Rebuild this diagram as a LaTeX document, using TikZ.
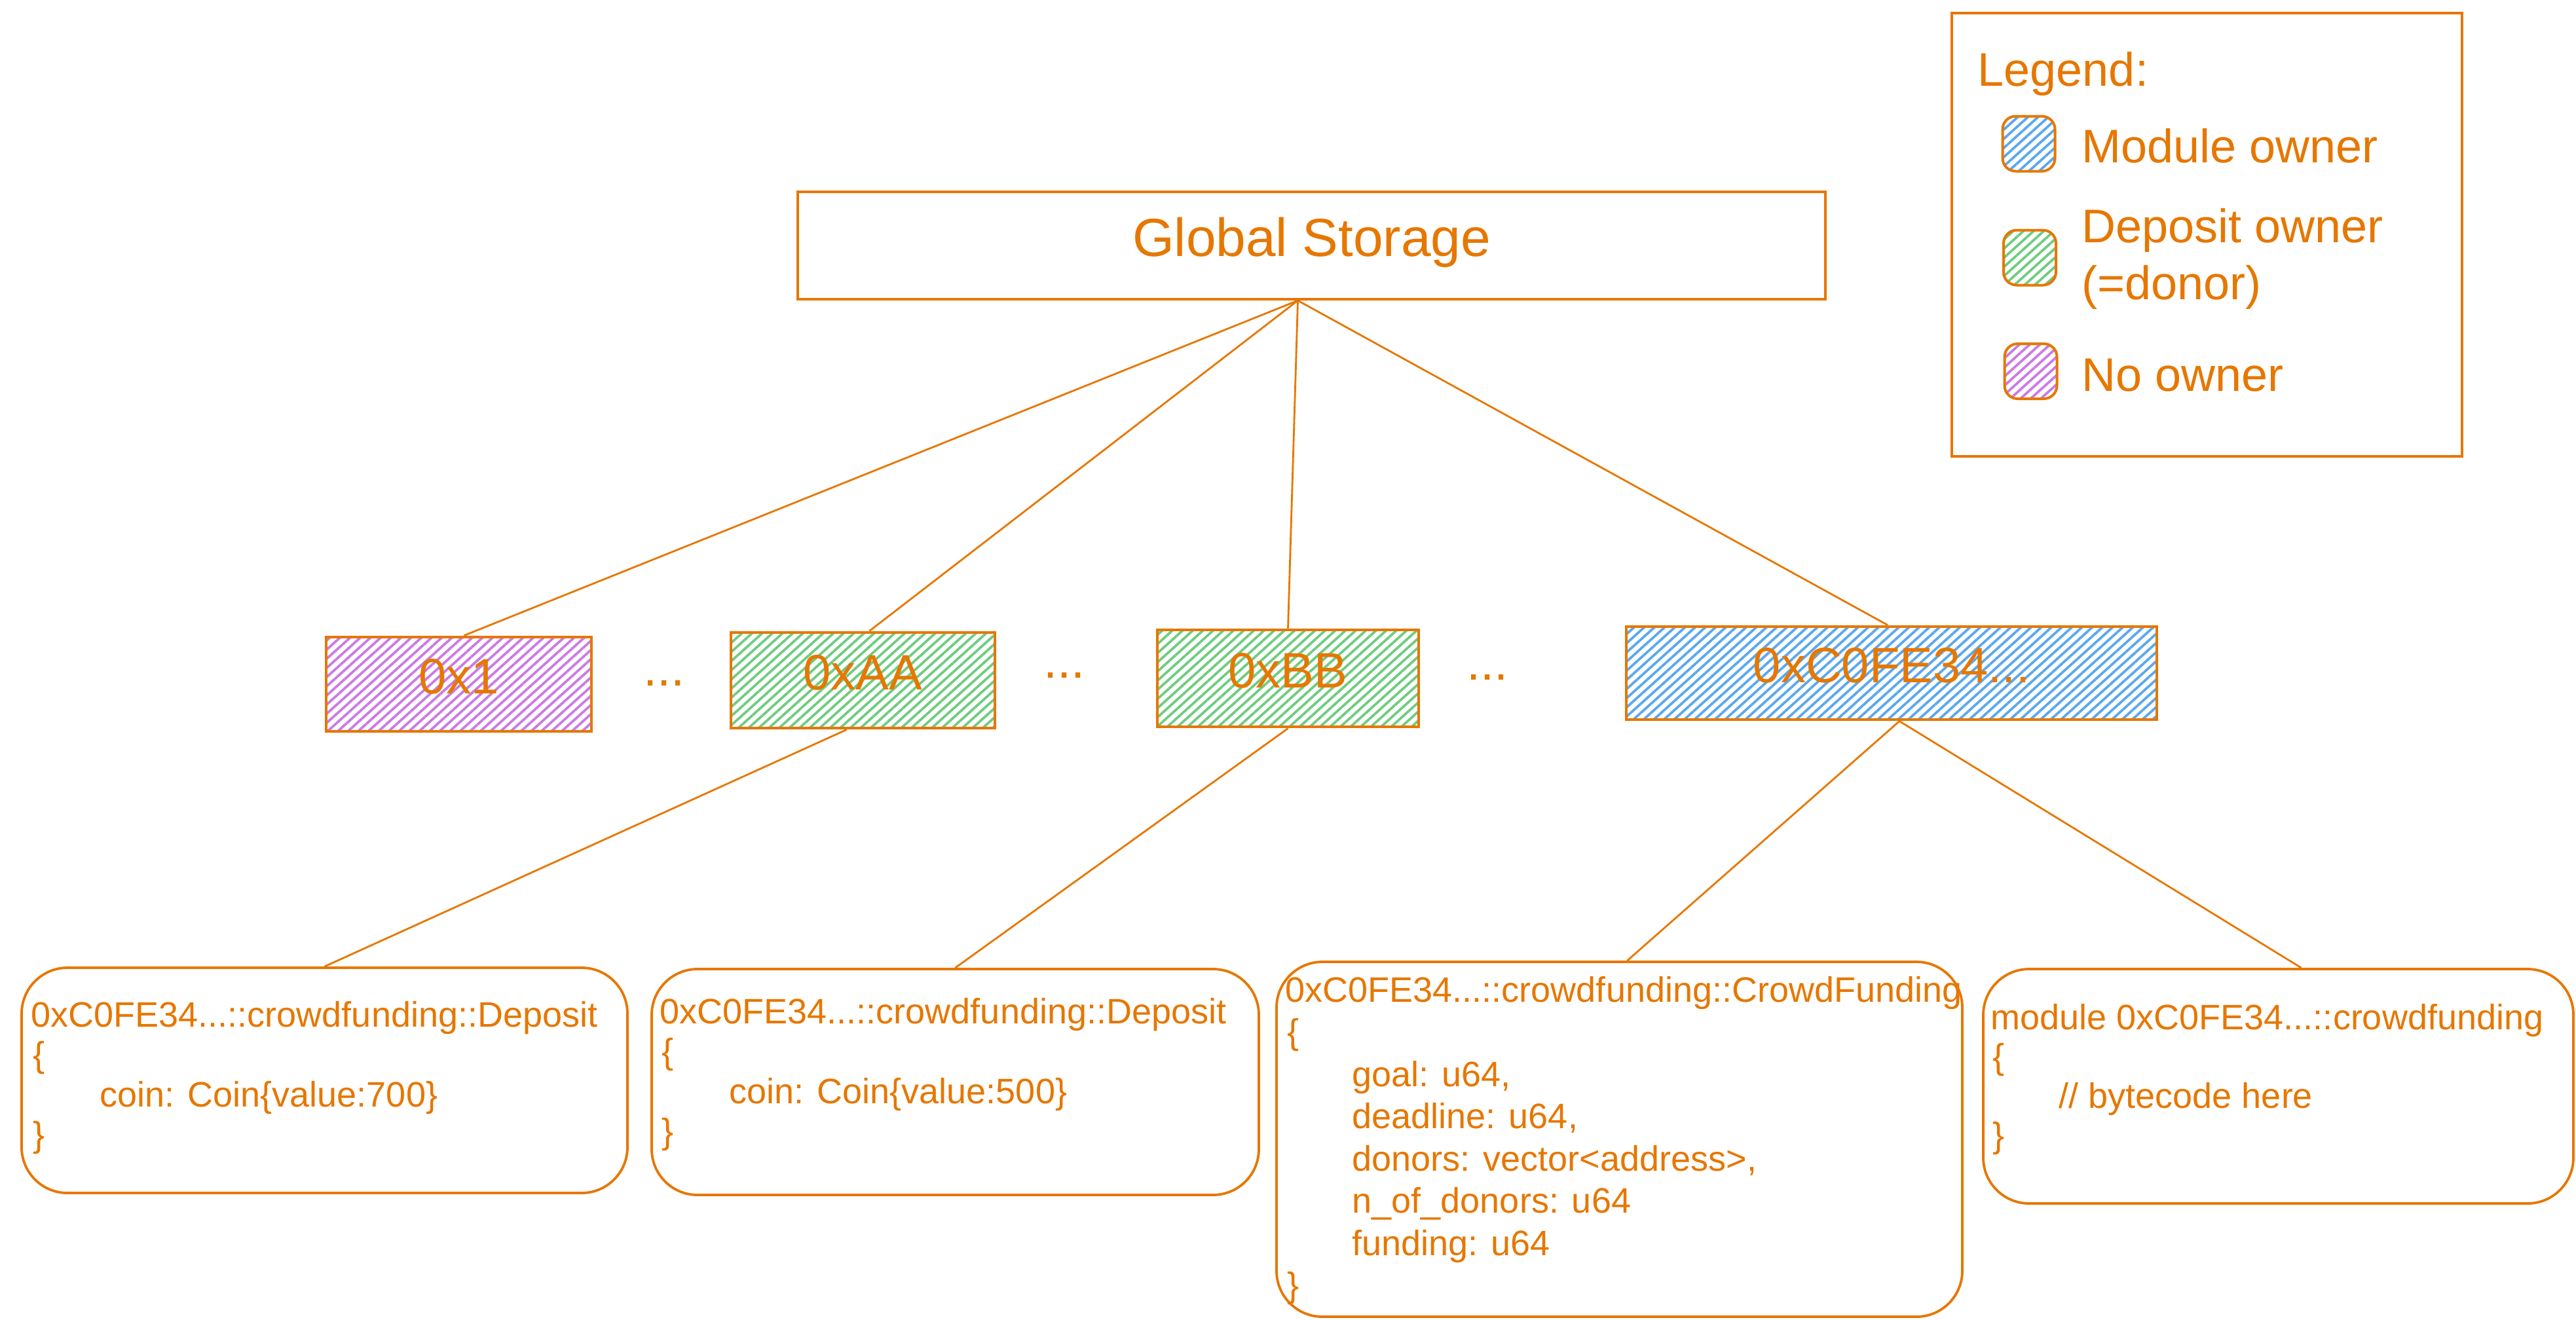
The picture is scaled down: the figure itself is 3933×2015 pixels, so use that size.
\documentclass[tikz,border=0pt]{standalone}
\usepackage{fontspec}
\setmainfont{Liberation Sans}
\usetikzlibrary{patterns.meta,calc}

\definecolor{orng}{HTML}{E67700}
\definecolor{hpurple}{HTML}{CB7AE6}
\definecolor{hgreen}{HTML}{6FCC80}
\definecolor{hblue}{HTML}{5BA8EE}

\tikzset{
  hatch/.style={pattern={Lines[angle=42,distance=2.6pt,line width=0.95pt]}, pattern color=#1},
  addrbox/.style={draw=orng, line width=1.2pt, hatch=#1, inner sep=0pt,
    text=orng, font=\fontsize{19pt}{22pt}\selectfont,
    text height=13.7pt, text depth=6.4pt},
  plainbox/.style={draw=orng, line width=1pt, inner sep=0pt,
    text=orng, font=\fontsize{20.5pt}{24pt}\selectfont,
    text height=14.8pt, text depth=6.5pt},
  structbox/.style={draw=orng, line width=0.95pt, rounded corners=17.5pt, inner sep=0pt},
  swatch/.style={draw=orng, line width=1pt, rounded corners=5pt, hatch=#1,
    minimum width=20pt, minimum height=21pt, inner sep=0pt},
  codeline/.style={anchor=base west, inner sep=0pt, text=orng,
    font=\fontsize{13.5pt}{16pt}\selectfont},
  legtext/.style={anchor=base west, inner sep=0pt, text=orng,
    font=\fontsize{18pt}{21pt}\selectfont},
  ellipsis/.style={anchor=base, inner sep=0pt, text=orng,
    font=\fontsize{19pt}{22pt}\selectfont},
  link/.style={draw=orng, line width=0.7pt},
}

\begin{document}
\begin{tikzpicture}[x=0.25pt, y=-0.25pt]
\useasboundingbox (0,0) rectangle (3933,2015);

% root
\node[plainbox, minimum width=392.25pt, minimum height=41pt] (gs) at (2002.5,375) {Global Storage};

% legend
\node[draw=orng, line width=1pt, minimum width=194.75pt, minimum height=169.25pt, inner sep=0pt] (legend) at (3369.5,358.5) {};
\node[legtext] (lgtitle) at (3019,131) {Legend:};
\node[swatch=hblue] (swmod) at (3097.5,219.5) {};
\node[legtext] (lgmod) at (3178,248) {Module owner};
\node[swatch=hgreen] (swdep) at (3099,393.5) {};
\node[legtext] (lgdep) at (3178,370) {Deposit owner};
\node[legtext] (lgdon) at (3178,457) {(=donor)};
\node[swatch=hpurple] (swnone) at (3100.5,567) {};
\node[legtext] (lgnone) at (3178,597) {No owner};

% accounts
\node[addrbox=hpurple, minimum width=101.25pt, minimum height=36pt] (a1) at (700.5,1045) {0x1};
\node[addrbox=hgreen, minimum width=100.75pt, minimum height=36.5pt] (a2) at (1317.5,1039) {0xAA};
\node[addrbox=hgreen, minimum width=99.75pt, minimum height=37pt] (a3) at (1966.5,1036) {0xBB};
\node[addrbox=hblue, minimum width=202.5pt, minimum height=35.5pt] (a4) at (2888,1028) {0xC0FE34...};

\node[ellipsis] (gap1) at (1014,1047) {...};
\node[ellipsis] (gap2) at (1625,1035) {...};
\node[ellipsis] (gap3) at (2271,1038) {...};

% resources and module
\node[structbox, minimum width=231.25pt, minimum height=86pt] (b1) at (495.5,1650) {};
\node[structbox, minimum width=231.75pt, minimum height=86.25pt] (b2) at (1458.5,1652.5) {};
\node[structbox, minimum width=261.75pt, minimum height=135.5pt] (b3) at (2472.5,1740) {};
\node[structbox, minimum width=225.25pt, minimum height=89.5pt] (b4) at (3478.5,1659) {};

\node[codeline] (b1t) at (47,1568) {0xC0FE34...::crowdfunding::Deposit};
\node[codeline] (b1o) at (50,1629) {\{};
\node[codeline] (b1c) at (152,1690) {coin: Coin\{value:700\}};
\node[codeline] (b1e) at (50,1751) {\}};

\node[codeline] (b2t) at (1007,1563) {0xC0FE34...::crowdfunding::Deposit};
\node[codeline] (b2o) at (1010,1624) {\{};
\node[codeline] (b2c) at (1113,1685) {coin: Coin\{value:500\}};
\node[codeline] (b2e) at (1010,1746) {\}};

\node[codeline] (b3t) at (1962,1530) {0xC0FE34...::crowdfunding::CrowdFunding};
\node[codeline] (b3o) at (1965,1594.5) {\{};
\node[codeline] (b3f1) at (2064,1659) {goal: u64,};
\node[codeline] (b3f2) at (2064,1723.5) {deadline: u64,};
\node[codeline] (b3f3) at (2064,1788) {donors: vector<address>,};
\node[codeline] (b3f4) at (2064,1852.5) {n\_of\_donors: u64};
\node[codeline] (b3f5) at (2064,1917) {funding: u64};
\node[codeline] (b3e) at (1965,1981.5) {\}};

\node[codeline] (b4t) at (3039,1572) {module 0xC0FE34...::crowdfunding};
\node[codeline] (b4o) at (3042,1632) {\{};
\node[codeline] (b4c) at (3143,1692) {// bytecode here};
\node[codeline] (b4e) at (3042,1752) {\}};

% connectors
\coordinate (gsfoot) at ($(gs.south)+(-21,0)$);
\draw[link] (gsfoot) -- ($(a1.north)+(8,0)$);
\draw[link] (gsfoot) -- ($(a2.north)+(10,0)$);
\draw[link] (gsfoot) -- (a3.north);
\draw[link] (gsfoot) -- ($(a4.north)+(-6,0)$);

\draw[link] ($(a2.south)+(-25,0)$) -- (b1.north);
\draw[link] (a3.south) -- (b2.north);
\draw[link] ($(a4.south)+(12,0)$) -- ($(b3.north)+(12,0)$);
\draw[link] ($(a4.south)+(12,0)$) -- ($(b4.north)+(35,0)$);
\end{tikzpicture}
\end{document}
